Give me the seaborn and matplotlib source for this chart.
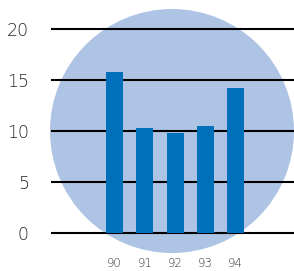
import matplotlib
matplotlib.use("Agg")
import matplotlib.pyplot as plt
from matplotlib.patches import Ellipse
import seaborn as sns
import pandas as pd

years = ["90", "91", "92", "93", "94"]
values = [15.8, 10.3, 9.8, 10.5, 14.2]
yticks = [0, 5, 10, 15, 20]

df = pd.DataFrame({"year": years, "value": values})

sns.set_style("white")
plt.rcParams['font.family'] = ['DejaVu Sans']

W, H = 294, 271
fig = plt.figure(figsize=(W / 100, H / 100), dpi=100)
fig.patch.set_facecolor("white")

# background circle (figure pixel coords)
cx, cy, r = 172, 131, 122
circ = Ellipse((cx / W, 1 - cy / H), 2 * r / W, 2 * r / H,
               transform=fig.transFigure, facecolor="#aec4e4",
               edgecolor="none", zorder=-5)
fig.add_artist(circ)

ax_left, ax_right = 51, 294
ax_top, ax_bot = 26, 236
ax = fig.add_axes([ax_left / W, 1 - ax_bot / H, (ax_right - ax_left) / W,
                   (ax_bot - ax_top) / H])
ax.patch.set_alpha(0)

sns.barplot(data=df, x="year", y="value", color="#0070bb", width=0.56,
            saturation=1, ax=ax, zorder=3, linewidth=0, edgecolor="none")

ax.set_xlim(-2.1, 5.93)
ax.set_ylim(-0.3, 20.3)
ax.set_yticks(yticks)
ax.set_yticklabels([str(t) for t in yticks], fontsize=12.5, color="#222222",
                   fontweight="light")
for lab in ax.get_xticklabels():
    lab.set_fontweight("light")
ax.set_axisbelow(True)
ax.yaxis.grid(True, color="black", linewidth=1.5)
ax.xaxis.grid(False)
for s in ax.spines.values():
    s.set_visible(False)
ax.tick_params(axis="y", length=0, pad=16)
ax.tick_params(axis="x", length=0, pad=15, labelsize=8.5, labelcolor="#333333")
ax.set_xlabel("")
ax.set_ylabel("")

fig.savefig("out.png", dpi=100)
